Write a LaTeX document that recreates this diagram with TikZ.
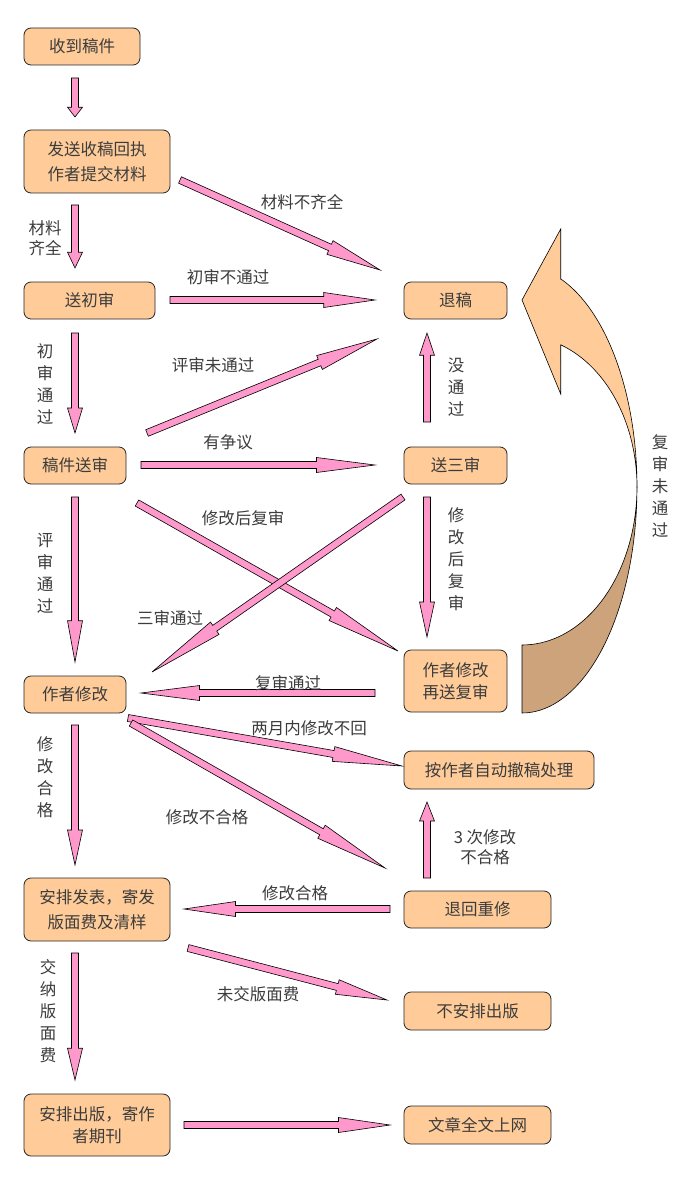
\documentclass[tikz,border=0pt]{standalone}
\usepackage{fontspec}
\setmainfont{Noto Sans CJK SC}
\usetikzlibrary{calc}
\definecolor{boxc}{RGB}{255,204,153}
\definecolor{pinkc}{RGB}{255,153,204}
\definecolor{darkc}{RGB}{204,163,122}
\definecolor{txtc}{RGB}{60,60,60}
\tikzset{
 box/.style={draw=black!85, line width=0.8pt, fill=boxc, rounded corners=7pt, inner sep=0pt, align=center, text=txtc, font=\fontsize{16.5}{22}\selectfont},
 lbl/.style={inner sep=0pt, align=center, text=txtc, font=\fontsize{16.5}{22}\selectfont},
 parrow/.style={draw=black, line width=0.6pt, fill=pinkc},
 bigarrow/.style={draw=black, line width=0.6pt},
}
\newcommand\pinkarrow[2]{%
 \coordinate (pa-h) at ($(#1)!0.75!(#2)$);
 \draw[parrow] ($(#1)!3.5pt!90:(#2)$) -- ($(pa-h)!3.5pt!90:(#2)$) -- ($(pa-h)!7.5pt!90:(#2)$) -- (#2) -- ($(pa-h)!7.5pt!-90:(#2)$) -- ($(pa-h)!3.5pt!-90:(#2)$) -- ($(#1)!3.5pt!-90:(#2)$) -- cycle;}
\begin{document}
\begin{tikzpicture}[x=1pt,y=-1pt]
\useasboundingbox (0,0) rectangle (680,1190);
\fill[white] (0,0) rectangle (680,1190);

% boxes
\node[box,minimum width=116pt,minimum height=37pt] (n1) at (82,46.5) {收到稿件};
\node[box,minimum width=146pt,minimum height=63pt,font=\fontsize{16.5}{25}\selectfont] (n2) at (97,161.5) {发送收稿回执\\作者提交材料};
\node[box,minimum width=131pt,minimum height=37pt] (n3) at (89.5,300.5) {送初审};
\node[box,minimum width=102pt,minimum height=37pt] (n4) at (75,465.5) {稿件送审};
\node[box,minimum width=102pt,minimum height=37pt] (n5) at (75,694.5) {作者修改};
\node[box,minimum width=146pt,minimum height=63pt,font=\fontsize{16.5}{25}\selectfont] (n6) at (97,909.5) {安排发表，寄发\\版面费及清样};
\node[box,minimum width=146pt,minimum height=62pt] (n7) at (97,1125) {安排出版，寄作\\者期刊};
\node[box,minimum width=103pt,minimum height=37pt] (n8) at (455.5,300.5) {退稿};
\node[box,minimum width=103pt,minimum height=37pt] (n9) at (455.5,465.5) {送三审};
\node[box,minimum width=103pt,minimum height=62pt] (n10) at (455.5,681) {作者修改\\再送复审};
\node[box,minimum width=190pt,minimum height=38pt] (n11) at (499,770) {按作者自动撤稿处理};
\node[box,minimum width=147pt,minimum height=37pt] (n12) at (477.5,909.5) {退回重修};
\node[box,minimum width=147pt,minimum height=38pt] (n13) at (477.5,1011) {不安排出版};
\node[box,minimum width=147pt,minimum height=38pt] (n14) at (477.5,1125) {文章全文上网};

% curved arrow
\draw[bigarrow,fill=darkc] (637,487) -- plot[domain=0:90,samples=40] ({522+115*cos(\x)},{487+226*sin(\x)}) -- (522,645) -- plot[domain=90:0,samples=40] ({522+115*cos(\x)},{487+158*sin(\x)}) -- cycle;
\draw[bigarrow,fill=boxc] (522,300) -- (560.7,229) -- (560.7,279) -- plot[domain=-70.3:0,samples=40] ({522+115*cos(\x)},{487+221*sin(\x)}) -- plot[domain=0:-70.3,samples=40] ({522+115*cos(\x)},{487+151*sin(\x)}) -- (560.7,394) -- cycle;

% arrow end points
\coordinate (a1s) at (75,78);   \coordinate (a1e) at (75,117);
\coordinate (a2s) at (75,205);  \coordinate (a2e) at (75,268);
\coordinate (a3s) at (180,180); \coordinate (a3e) at (380,270);
\coordinate (a4s) at (170,300); \coordinate (a4e) at (375,300);
\coordinate (a5s) at (75,333);  \coordinate (a5e) at (75,433);
\coordinate (a6s) at (147,433); \coordinate (a6e) at (377,339);
\coordinate (a7s) at (141,465); \coordinate (a7e) at (375,465);
\coordinate (a8s) at (137,503); \coordinate (a8e) at (398,651);
\coordinate (a9s) at (403,497); \coordinate (a9e) at (152,672);
\coordinate (a10s) at (375,693); \coordinate (a10e) at (141,693);
\coordinate (a11s) at (427,422); \coordinate (a11e) at (427,333);
\coordinate (a12s) at (427,497); \coordinate (a12e) at (427,637);
\coordinate (a13s) at (75,725);  \coordinate (a13e) at (75,865);
\coordinate (a14s) at (128,718); \coordinate (a14e) at (402,766);
\coordinate (a15s) at (131,723); \coordinate (a15e) at (385,868);
\coordinate (a16s) at (427,878); \coordinate (a16e) at (427,802);
\coordinate (a17s) at (390,909); \coordinate (a17e) at (184,909);
\coordinate (a18s) at (188,948); \coordinate (a18e) at (387,1000);
\coordinate (a19s) at (75,953);  \coordinate (a19e) at (75,1080);
\coordinate (a20s) at (184,1125); \coordinate (a20e) at (390,1125);
\coordinate (a21s) at (75,497);  \coordinate (a21e) at (75,662);

\foreach \i in {1,...,21}{\pinkarrow{a\i s}{a\i e}}

% labels
\node[lbl] (l1) at (302,202) {材料不齐全};
\node[lbl,font=\fontsize{16.5}{20}\selectfont] (l2) at (45,238) {材料\\齐全};
\node[lbl] (l3) at (228,277) {初审不通过};
\node[lbl] (l4) at (45,384.5) {初\\审\\通\\过};
\node[lbl] (l5) at (213,365) {评审未通过};
\node[lbl] (l6) at (228,442) {有争议};
\node[lbl] (l7) at (243,518) {修改后复审};
\node[lbl] (l8) at (170,618) {三审通过};
\node[lbl] (l9) at (45,573.5) {评\\审\\通\\过};
\node[lbl] (l10) at (456,387) {没\\通\\过};
\node[lbl] (l11) at (456,559) {修\\改\\后\\复\\审};
\node[lbl] (l12) at (660,486) {复\\审\\未\\通\\过};
\node[lbl] (l13) at (288,683) {复审通过};
\node[lbl] (l14) at (309,728) {两月内修改不回};
\node[lbl] (l15) at (207,817) {修改不合格};
\node[lbl] (l16) at (45,777.5) {修\\改\\合\\格};
\node[lbl,font=\fontsize{16.5}{20}\selectfont] (l17) at (485,847) {3 次修改\\不合格};
\node[lbl] (l18) at (295,893) {修改合格};
\node[lbl] (l19) at (258,994) {未交版面费};
\node[lbl] (l20) at (48,1011.5) {交\\纳\\版\\面\\费};
\end{tikzpicture}
\end{document}
